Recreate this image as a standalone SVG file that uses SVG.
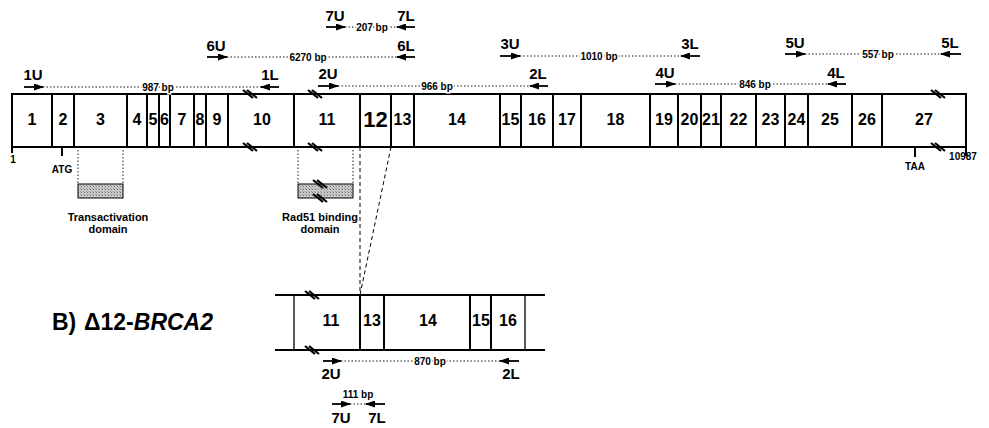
<svg xmlns="http://www.w3.org/2000/svg" width="989" height="428" viewBox="0 0 989 428">
<style>
text{font-family:"Liberation Sans",Arial,sans-serif;fill:#000;}
.ex{font-size:16px;font-weight:bold;text-anchor:middle;}
.pr{font-size:15px;font-weight:bold;text-anchor:middle;}
.bp{font-size:10px;font-weight:bold;text-anchor:middle;stroke:#fff;stroke-width:3px;paint-order:stroke;}
.sm{font-size:10px;font-weight:bold;text-anchor:middle;}
.dom{font-size:11px;font-weight:bold;text-anchor:middle;}
.bar{fill:none;stroke:#000;stroke-width:2;}
.ln{stroke:#000;stroke-width:2;fill:none;}
.thin{stroke:#000;stroke-width:1.3;fill:none;}
.dot{stroke:#000;stroke-width:0.9;stroke-dasharray:1.5,2;fill:none;}
.dash{stroke:#000;stroke-width:1;stroke-dasharray:4,3;fill:none;}
.arr{stroke:#000;stroke-width:1.8;marker-end:url(#ah);}
.brk{stroke:#000;stroke-width:2.2;fill:none;}
.domb{fill:url(#stip);stroke:#000;stroke-width:1;}
</style>
<defs>
<marker id="ah" markerUnits="userSpaceOnUse" markerWidth="10" markerHeight="7" refX="9" refY="3.5" orient="auto">
<path d="M0,0 L10,3.5 L0,7 z" fill="#000"/>
</marker>
<g id="brk">
<path d="M-7,-4 L3,4 M-3,-4 L7,4" class="brk"/>
</g>
<pattern id="stip" width="3" height="3" patternUnits="userSpaceOnUse">
<rect width="3" height="3" fill="#c8c8c8"/>
<rect width="1" height="1" fill="#777"/>
<rect x="2" y="2" width="1" height="1" fill="#999"/>
</pattern>
</defs>

<!-- Main gene bar -->
<g id="gene">
<rect x="12" y="94" width="954" height="53" class="bar"/>
<path class="ln" d="M12,147 V153 M966,147 V156 M52,94 V147 M74,94 V147 M127,94 V147 M147,94 V147 M159,94 V147 M170,94 V147 M194,94 V147 M206,94 V147 M228,94 V147 M294,94 V147 M360,94 V147 M391,94 V147 M414,94 V147 M500,94 V147 M521,94 V147 M553,94 V147 M581,94 V147 M650,94 V147 M678,94 V147 M701,94 V147 M721,94 V147 M756,94 V147 M785,94 V147 M808,94 V147 M852,94 V147 M882,94 V147"/>
<use href="#brk" x="250" y="94"/>
<use href="#brk" x="250" y="147"/>
<use href="#brk" x="315" y="94"/>
<use href="#brk" x="315" y="147"/>
<use href="#brk" x="938" y="94"/>
<use href="#brk" x="938" y="147"/>
</g>
<g id="exon-labels">
<text class="ex" x="32" y="125">1</text>
<text class="ex" x="63" y="125">2</text>
<text class="ex" x="100.5" y="125">3</text>
<text class="ex" x="137" y="125">4</text>
<text class="ex" x="153" y="125">5</text>
<text class="ex" x="164.5" y="125">6</text>
<text class="ex" x="182" y="125">7</text>
<text class="ex" x="200" y="125">8</text>
<text class="ex" x="217" y="125">9</text>
<text class="ex" x="262" y="125">10</text>
<text class="ex" x="327" y="125">11</text>
<text class="ex" x="375.5" y="127" style="font-size:22px">12</text>
<text class="ex" x="402.5" y="125">13</text>
<text class="ex" x="457" y="125">14</text>
<text class="ex" x="510.5" y="125">15</text>
<text class="ex" x="537" y="125">16</text>
<text class="ex" x="567" y="125">17</text>
<text class="ex" x="615.5" y="125">18</text>
<text class="ex" x="664" y="125">19</text>
<text class="ex" x="689.5" y="125">20</text>
<text class="ex" x="711" y="125">21</text>
<text class="ex" x="738.5" y="125">22</text>
<text class="ex" x="770.5" y="125">23</text>
<text class="ex" x="796.5" y="125">24</text>
<text class="ex" x="830" y="125">25</text>
<text class="ex" x="867" y="125">26</text>
<text class="ex" x="924" y="125">27</text>
</g>

<g id="positions">
<text class="sm" x="13" y="163">1</text>
<path class="ln" d="M62,147 V156"/>
<text class="sm" x="62" y="173">ATG</text>
<path class="ln" d="M915,147 V157"/>
<text class="sm" x="915" y="170">TAA</text>
<text class="sm" x="963" y="160">10987</text>
</g>

<!-- Domains -->
<g id="transactivation">
<path class="dot" d="M78,150 V184 M123,150 V184"/>
<rect class="domb" x="78" y="184" width="45" height="14"/>
<text class="dom" x="108" y="221">Transactivation</text>
<text class="dom" x="108" y="233">domain</text>
</g>
<g id="rad51">
<path class="dot" d="M298,150 V184 M353,150 V184"/>
<rect class="domb" x="298" y="184" width="55" height="14"/>
<use href="#brk" x="320" y="184"/>
<use href="#brk" x="320" y="198"/>
<text class="dom" x="320" y="221">Rad51 binding</text>
<text class="dom" x="320" y="233">domain</text>
</g>

<!-- Connectors: primers and zoom lines -->
<g id="connectors">
<path class="dash" d="M360,147 V295 M391,147 L360,295"/>
<line class="arr" x1="24" y1="87" x2="43" y2="87"/>
<line class="arr" x1="279" y1="87" x2="261" y2="87"/>
<line class="dot" x1="43" y1="87" x2="261" y2="87"/>
<line class="arr" x1="207" y1="57" x2="227" y2="57"/>
<line class="arr" x1="415" y1="57" x2="397" y2="57"/>
<line class="dot" x1="227" y1="57" x2="397" y2="57"/>
<line class="arr" x1="326" y1="27" x2="345" y2="27"/>
<line class="arr" x1="415" y1="27" x2="397" y2="27"/>
<line class="dot" x1="345" y1="27" x2="397" y2="27"/>
<line class="arr" x1="318" y1="86" x2="338" y2="86"/>
<line class="arr" x1="548" y1="86" x2="530" y2="86"/>
<line class="dot" x1="338" y1="86" x2="530" y2="86"/>
<line class="arr" x1="500" y1="56" x2="520" y2="56"/>
<line class="arr" x1="700" y1="56" x2="681" y2="56"/>
<line class="dot" x1="520" y1="56" x2="681" y2="56"/>
<line class="arr" x1="655" y1="84" x2="675" y2="84"/>
<line class="arr" x1="846" y1="84" x2="828" y2="84"/>
<line class="dot" x1="675" y1="84" x2="828" y2="84"/>
<line class="arr" x1="785" y1="54" x2="805" y2="54"/>
<line class="arr" x1="961" y1="54" x2="941" y2="54"/>
<line class="dot" x1="805" y1="54" x2="941" y2="54"/>
<line class="arr" x1="323" y1="361" x2="341" y2="361"/>
<line class="arr" x1="519" y1="361" x2="500" y2="361"/>
<line class="dot" x1="341" y1="361" x2="500" y2="361"/>
<line class="arr" x1="332" y1="404" x2="350" y2="404"/>
<line class="arr" x1="385" y1="404" x2="366" y2="404"/>
<line class="dot" x1="350" y1="404" x2="366" y2="404"/>
</g>

<g id="primer-labels">
<text class="pr" x="33" y="80">1U</text>
<text class="pr" x="270" y="80">1L</text>
<text class="bp" x="158" y="90.5">987 bp</text>
<text class="pr" x="216" y="51">6U</text>
<text class="pr" x="406" y="51">6L</text>
<text class="bp" x="308" y="60.5">6270 bp</text>
<text class="pr" x="335" y="21">7U</text>
<text class="pr" x="406" y="21">7L</text>
<text class="bp" x="372" y="30.5">207 bp</text>
<text class="pr" x="328" y="79">2U</text>
<text class="pr" x="538" y="79">2L</text>
<text class="bp" x="437" y="89.5">966 bp</text>
<text class="pr" x="510" y="49">3U</text>
<text class="pr" x="690" y="49">3L</text>
<text class="bp" x="599" y="59.5">1010 bp</text>
<text class="pr" x="665" y="78">4U</text>
<text class="pr" x="836" y="78">4L</text>
<text class="bp" x="755" y="87.5">846 bp</text>
<text class="pr" x="795" y="48">5U</text>
<text class="pr" x="950" y="48">5L</text>
<text class="bp" x="878" y="57.5">557 bp</text>
<text class="pr" x="331" y="379">2U</text>
<text class="pr" x="511" y="379">2L</text>
<text class="bp" x="430" y="364.5">870 bp</text>
<text class="sm" x="358" y="398">111 bp</text>
<text class="pr" x="341" y="423">7U</text>
<text class="pr" x="377" y="423">7L</text>
</g>

<!-- Lower bar: delta12 -->
<g id="delta12">
<path class="ln" d="M275,295 H545 M275,350 H545"/>
<path class="thin" d="M294,295 V350 M525,295 V350"/>
<path class="ln" d="M360,295 V350 M384,295 V350 M470,295 V350 M491,295 V350"/>
<use href="#brk" x="312" y="295"/>
<use href="#brk" x="312" y="350"/>
<text class="ex" x="331" y="326">11</text>
<text class="ex" x="372" y="326">13</text>
<text class="ex" x="428" y="326">14</text>
<text class="ex" x="481" y="326">15</text>
<text class="ex" x="508" y="326">16</text>
</g>

<g id="title">
<text x="52" y="330" style="font-size:23px;font-weight:bold">B)<tspan x="84">Δ12-</tspan><tspan font-style="italic">BRCA2</tspan></text>
</g>
</svg>
